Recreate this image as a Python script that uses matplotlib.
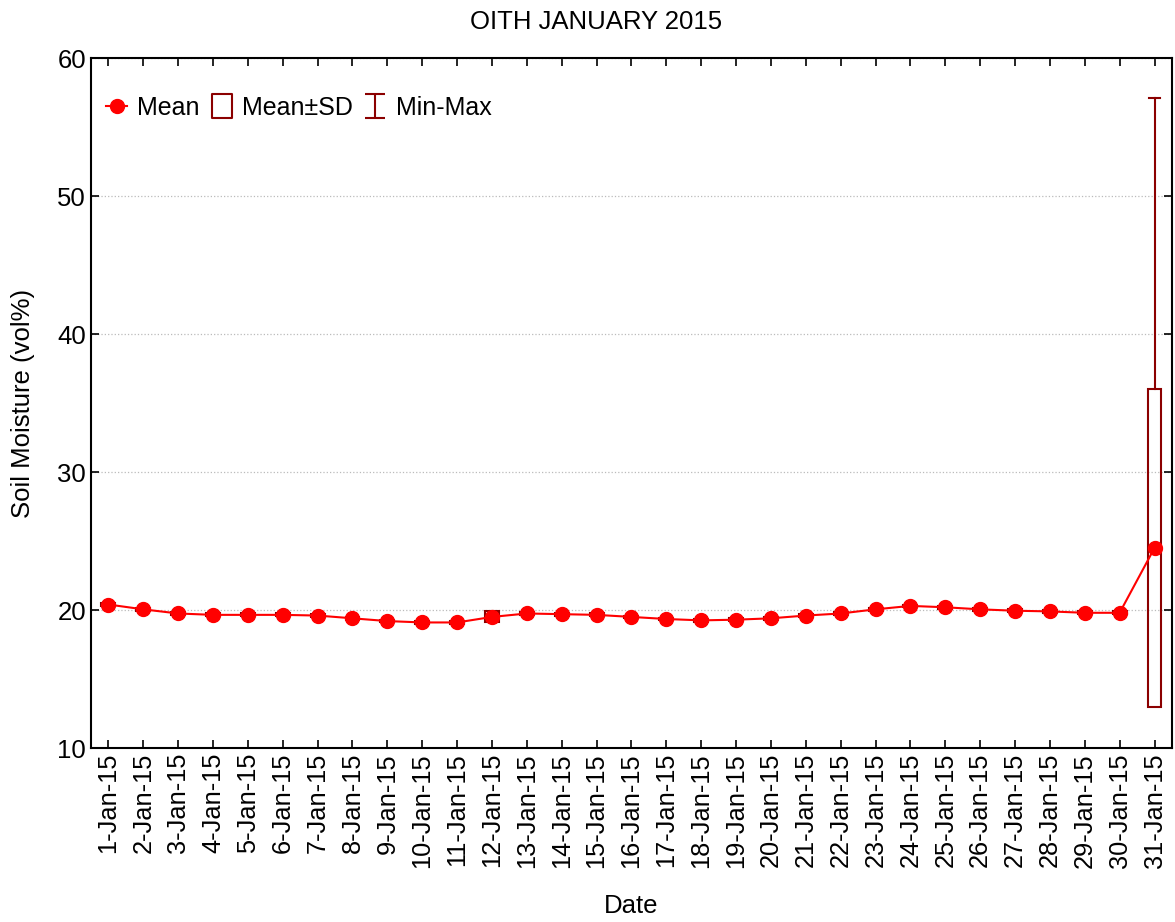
import matplotlib
matplotlib.use("Agg")
from matplotlib import pyplot as plt
from matplotlib.patches import Rectangle
from matplotlib.lines import Line2D
from matplotlib.path import Path

plt.rcParams['font.family'] = ['Liberation Sans', 'DejaVu Sans']

# daily soil moisture stats, January 2015
days = list(range(1, 32))
labels = [f'{d}-Jan-15' for d in days]
mean = [20.4, 20.05, 19.75, 19.65, 19.65, 19.65, 19.6, 19.4, 19.2, 19.1,
        19.1, 19.5, 19.75, 19.7, 19.65, 19.5, 19.35, 19.25, 19.3, 19.4,
        19.6, 19.75, 20.05, 20.3, 20.2, 20.05, 19.95, 19.9, 19.8, 19.8,
        24.5]
sd = [0.1] * 11 + [0.4] + [0.1] * 18 + [11.5]
vmin = [m - s for m, s in zip(mean, sd)]
vmax = [m + s for m, s in zip(mean, sd)]
vmax[-1] = 57.1

box_col = '#8b0000'
red = '#ff0000'

fig = plt.figure(figsize=(11.75, 9.22), dpi=100)
ax = fig.add_axes([0.0774, 0.1887, 0.92, 0.7483])

# Mean±SD boxes and Min-Max whiskers
bw = 0.4
cw = 0.15
for d, m, s, lo, hi in zip(days, mean, sd, vmin, vmax):
    ax.add_patch(Rectangle((d - bw / 2, m - s), bw, 2 * s, facecolor='none',
                           edgecolor=box_col, lw=1.5, zorder=2))
    if hi > m + s:
        ax.plot([d, d], [m + s, hi], color=box_col, lw=1.5, zorder=2)
        ax.plot([d - cw, d + cw], [hi, hi], color=box_col, lw=1.5, zorder=2)
    if lo < m - s:
        ax.plot([d, d], [lo, m - s], color=box_col, lw=1.5, zorder=2)
        ax.plot([d - cw, d + cw], [lo, lo], color=box_col, lw=1.5, zorder=2)

ax.plot(days, mean, color=red, lw=1.5, marker='o', markersize=10, zorder=3)

ax.set_xlim(0.5, 31.5)
ax.set_ylim(10, 60)
ax.set_xticks(days)
ax.set_xticklabels(labels, rotation=90, fontsize=18.3)
ax.set_yticks([10, 20, 30, 40, 50, 60])
ax.tick_params(axis='y', labelsize=18.5)
ax.tick_params(direction='in', length=6, width=1.2, top=True, right=True)
ax.grid(axis='y', color='#bbbbbb', linestyle=':', lw=0.9)
for sp in ax.spines.values():
    sp.set_linewidth(1.5)

ax.set_xlabel('Date', fontsize=18.5, labelpad=19)
ax.set_ylabel('Soil Moisture (vol%)', fontsize=18.5, labelpad=16)
fig.suptitle('OITH JANUARY 2015', x=0.507, y=0.976, va='center', fontsize=18.5)

# legend
ibar = Path([(-0.85, 1), (0.85, 1), (0, 1), (0, -1), (-0.85, -1), (0.85, -1)],
            [Path.MOVETO, Path.LINETO, Path.MOVETO, Path.LINETO, Path.MOVETO, Path.LINETO])
rect = Path([(-0.8, -1), (0.8, -1), (0.8, 1), (-0.8, 1), (-0.8, -1)],
            [Path.MOVETO, Path.LINETO, Path.LINETO, Path.LINETO, Path.CLOSEPOLY])
handles = [Line2D([], [], color=red, lw=1.5, marker='o', markersize=10),
           Line2D([], [], linestyle='none', marker=rect, markersize=17.5,
                  markerfacecolor='none', markeredgecolor=box_col, markeredgewidth=1.5),
           Line2D([], [], linestyle='none', marker=ibar, markersize=17.5,
                  markerfacecolor='none', markeredgecolor=box_col, markeredgewidth=1.5)]
ax.legend(handles, ['Mean', 'Mean±SD', 'Min-Max'], loc='upper left', ncol=3,
          frameon=False, fontsize=18, handlelength=0.85, handletextpad=0.4,
          columnspacing=0.45, bbox_to_anchor=(-0.007, 0.978))

fig.savefig('out.png', dpi=100)
